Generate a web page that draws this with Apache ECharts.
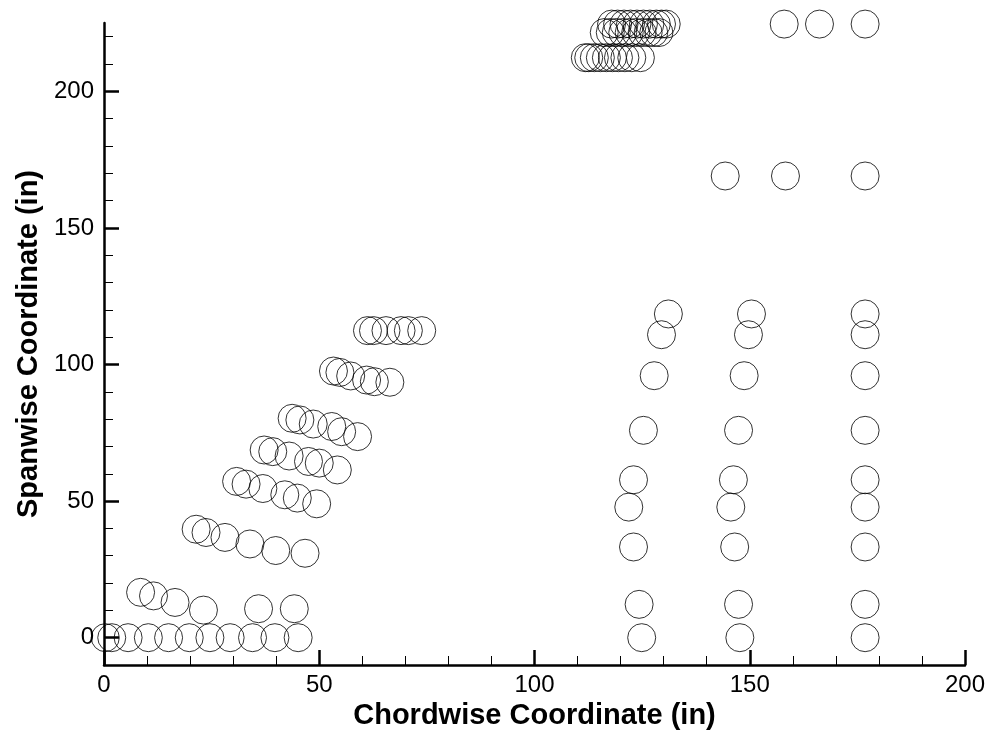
<!DOCTYPE html>
<html>
<head>
<meta charset="utf-8">
<script src="https://cdn.jsdelivr.net/npm/echarts@6/dist/echarts.min.js"></script>
<style>
html,body{margin:0;padding:0;background:#fff;}
#chart{width:990px;height:731px;}
</style>
</head>
<body>
<div id="chart"></div>
<script>
// ---- Data ----
// Leading-edge-ish sweep rows (x: chordwise, y: spanwise)
var row0X = [0.3, 1.8, 5.6, 10.3, 15.0, 19.8, 24.6, 29.3, 34.5, 39.7, 45.1];
var row0Y = [0, 0, 0, 0, 0, 0, 0, 0, 0, 0, 0];
var row1X = [8.5, 11.5, 16.5, 23.1, 35.9, 44.2];
var row1Y = [16.6, 15.3, 12.9, 10.1, 10.6, 10.6];
var row2X = [21.4, 23.7, 28.1, 33.9, 39.9, 46.7];
var row2Y = [39.7, 38.5, 36.7, 34.3, 31.9, 30.9];
var row3X = [30.8, 33.0, 36.9, 42.0, 44.9, 49.4];
var row3Y = [57.2, 56.2, 54.6, 52.3, 51.1, 49.0];
var row4X = [37.2, 39.2, 43.0, 47.5, 50.0, 54.2];
var row4Y = [68.7, 68.1, 66.5, 64.5, 63.9, 61.4];
var row5X = [43.7, 45.5, 48.6, 52.9, 55.2, 58.9];
var row5Y = [80.3, 79.7, 78.2, 77.3, 75.4, 73.6];
var row6X = [53.3, 54.8, 57.3, 61.0, 62.8, 66.4];
var row6Y = [97.6, 97.1, 95.8, 94.3, 93.7, 93.5];
var row7X = [61.2, 62.6, 65.5, 69.0, 70.7, 73.8];
var row7Y = [112.4, 112.4, 112.4, 112.4, 112.4, 112.4];

// Aft columns
var colSpanY = [0, 12.2, 33.2, 47.8, 57.8, 75.9, 95.9, 110.9, 118.5];
var colAX = [124.9, 124.3, 123.0, 121.9, 123.0, 125.3, 127.8, 129.5, 131.1];
var colBX = [147.7, 147.4, 146.5, 145.6, 146.2, 147.4, 148.7, 149.7, 150.4];
var colCX = [176.8, 176.8, 176.8, 176.8, 176.8, 176.8, 176.8, 176.8, 176.8];

var row169X = [144.3, 158.3, 176.8];
var row169Y = [169.0, 169.0, 169.0];
var row225X = [158.0, 166.2, 176.8];
var row225Y = [224.6, 224.6, 224.6];

// Tip cluster
var tipAX = [117.9, 119.3, 120.8, 122.3, 123.8, 125.3, 126.8, 128.3, 129.5, 130.6];
var tipAY = [224.6, 224.6, 224.6, 224.6, 224.6, 224.6, 224.6, 224.6, 224.6, 224.6];
var tipBX = [116.2, 117.6, 119.0, 120.5, 122.0, 123.5, 125.0, 126.4, 127.7, 128.9];
var tipBY = [221.5, 221.5, 221.5, 221.5, 221.5, 221.5, 221.5, 221.5, 221.5, 221.5];
var tipCX = [111.8, 112.6, 113.9, 115.3, 116.7, 118.1, 119.5, 121.0, 122.6, 124.6];
var tipCY = [212.3, 212.3, 212.3, 212.3, 212.3, 212.3, 212.3, 212.3, 212.3, 212.3];

// Axis ticks
var yMajorTicks = [0, 50, 100, 150, 200];
var yMinorTicks = [-10, 10, 20, 30, 40, 60, 70, 80, 90, 110, 120, 130, 140, 160, 170, 180, 190, 210, 220];

var xTitle = 'Chordwise Coordinate (in)';
var yTitle = 'Spanwise Coordinate (in)';

// ---- Build ----
function zip(xs, ys) {
  var out = [];
  for (var i = 0; i < xs.length; i++) out.push([xs[i], ys[i]]);
  return out;
}
var groups = [
  zip(row0X, row0Y), zip(row1X, row1Y), zip(row2X, row2Y), zip(row3X, row3Y),
  zip(row4X, row4Y), zip(row5X, row5Y), zip(row6X, row6Y), zip(row7X, row7Y),
  zip(colAX, colSpanY), zip(colBX, colSpanY), zip(colCX, colSpanY),
  zip(row169X, row169Y), zip(row225X, row225Y),
  zip(tipAX, tipAY), zip(tipBX, tipBY), zip(tipCX, tipCY)
];
var allPoints = [];
groups.forEach(function (g) { allPoints = allPoints.concat(g); });

var FONT = '"Liberation Sans", Arial, Helvetica, sans-serif';
var chart = echarts.init(document.getElementById('chart'), null, { renderer: 'canvas' });
chart.setOption({
  backgroundColor: '#ffffff',
  animation: false,
  grid: { left: 104, right: 25, top: 23, bottom: 66, containLabel: false, outerBoundsMode: 'none' },
  xAxis: [{
    type: 'value', min: 0, max: 200, interval: 50,
    name: xTitle, nameLocation: 'middle', nameGap: 32,
    nameTextStyle: { fontFamily: FONT, fontWeight: 'bold', fontSize: 29, color: '#000' },
    axisLine: { show: true, onZero: false, lineStyle: { color: '#000', width: 2.5 } },
    axisTick: { show: true, inside: true, length: 15, lineStyle: { color: '#000', width: 2.5 } },
    minorTick: { show: true, splitNumber: 5, length: 9, lineStyle: { color: '#000', width: 1 } },
    axisLabel: { fontFamily: FONT, fontSize: 24, color: '#000', margin: 8 },
    splitLine: { show: false }
  }],
  yAxis: [{
    type: 'value', min: -10, max: 225,
    name: yTitle, nameLocation: 'middle', nameGap: 60, nameRotate: 90,
    nameTextStyle: { fontFamily: FONT, fontWeight: 'bold', fontSize: 29, color: '#000' },
    axisLine: { show: true, onZero: false, lineStyle: { color: '#000', width: 2.5 } },
    axisTick: { show: true, inside: true, length: 15, customValues: yMajorTicks, lineStyle: { color: '#000', width: 2.5 } },
    axisLabel: { fontFamily: FONT, fontSize: 24, color: '#000', margin: 10, customValues: yMajorTicks },
    splitLine: { show: false }
  }, {
    type: 'value', min: -10, max: 225, position: 'left',
    axisLine: { show: false },
    axisTick: { show: true, inside: true, length: 9, customValues: yMinorTicks, lineStyle: { color: '#000', width: 1 } },
    axisLabel: { show: false, customValues: yMinorTicks },
    splitLine: { show: false }
  }],
  series: [{
    type: 'scatter',
    xAxisIndex: 0, yAxisIndex: 0,
    symbol: 'circle', symbolSize: 28,
    data: allPoints,
    itemStyle: { color: 'rgba(0,0,0,0)', borderColor: '#000', borderWidth: 1 },
    emphasis: { disabled: true },
    silent: true
  }]
});
</script>
</body>
</html>
